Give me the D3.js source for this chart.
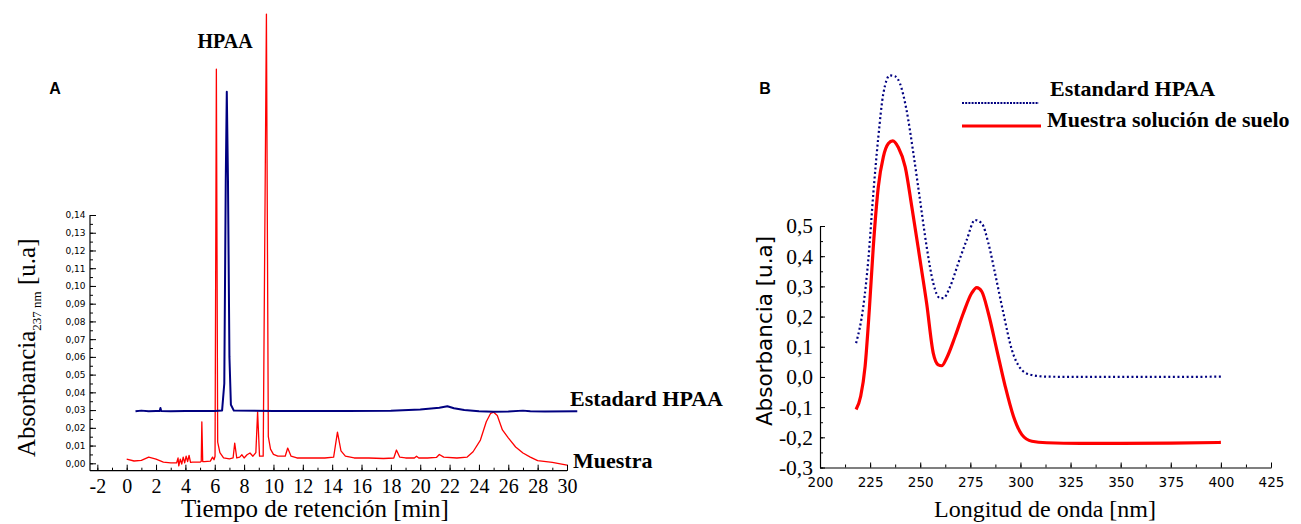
<!DOCTYPE html>
<html>
<head>
<meta charset="utf-8">
<script src="https://cdn.jsdelivr.net/npm/d3@7"></script>
<style>
  html, body { margin: 0; padding: 0; background: #fff; }
  svg { display: block; }
</style>
</head>
<body>
<svg id="chart" width="1301" height="524"></svg>
<script>
// ---------- Panel A: chromatogram ----------
const tA_std = [0.6, 1.0, 1.5, 2.0, 2.25, 2.3, 2.35, 3.0, 4.0, 5.0, 6.0, 6.5, 6.65, 6.75, 6.82, 6.9, 7.0, 7.1, 7.3, 10, 15, 18, 20, 21.3, 21.85, 22.3, 23.0, 24.0, 25.0, 26.0, 27.0, 27.5, 28.5, 30.7];
const absA_std = [0.0293, 0.0297, 0.0294, 0.0295, 0.0295, 0.0312, 0.0295, 0.0294, 0.0295, 0.0295, 0.0295, 0.0298, 0.045, 0.16, 0.2095, 0.16, 0.06, 0.033, 0.0297, 0.0295, 0.0295, 0.0296, 0.0303, 0.0313, 0.0322, 0.031, 0.0300, 0.0293, 0.0290, 0.0292, 0.0297, 0.0293, 0.0292, 0.0293];

const tA_mue = [0.0, 0.5, 1.0, 1.5, 2.0, 2.5, 3.0, 3.4, 3.5, 3.55, 3.65, 3.75, 3.85, 3.95, 4.05, 4.15, 4.25, 4.35, 4.5, 5.0, 5.08, 5.12, 5.18, 5.3, 5.7, 5.85, 5.95, 6.02, 6.11, 6.2, 6.35, 6.6, 7.0, 7.25, 7.36, 7.5, 7.7, 7.85, 8.0, 8.2, 8.4, 8.6, 8.8, 8.92, 9.05, 9.3, 9.52, 9.65, 9.8, 10.0, 10.3, 10.8, 10.97, 11.2, 11.6, 12.5, 13.5, 14.1, 14.36, 14.6, 14.9, 15.5, 16.5, 17.5, 18.2, 18.38, 18.6, 19.0, 19.6, 19.75, 19.9, 20.5, 21.1, 21.3, 21.6, 22.5, 23.2, 23.6, 24.1, 24.5, 24.8, 25.0, 25.25, 25.6, 26.0, 26.5, 27.0, 27.5, 28.0, 29.0, 30.0];
const absA_mue = [0.0023, 0.0013, 0.0016, 0.0035, 0.0024, 0.0007, 0.0002, 0.0002, 0.0030, -0.0015, 0.0024, -0.0004, 0.0035, 0.0002, 0.0040, 0.0010, 0.0044, 0.0005, 0.0007, 0.0007, 0.0010, 0.0234, 0.0010, 0.0009, 0.0012, 0.0035, 0.0020, 0.0040, 0.2223, 0.0120, 0.0060, 0.0030, 0.0025, 0.0030, 0.0114, 0.0030, 0.0035, 0.0048, 0.0030, 0.0048, 0.0058, 0.0040, 0.0060, 0.0290, 0.0040, 0.0040, 0.2533, 0.0150, 0.0080, 0.0050, 0.0040, 0.0040, 0.0086, 0.0040, 0.0030, 0.0030, 0.0030, 0.0035, 0.0176, 0.0070, 0.0040, 0.0030, 0.0030, 0.0027, 0.0030, 0.0075, 0.0035, 0.0030, 0.0030, 0.0040, 0.0030, 0.0030, 0.0033, 0.0050, 0.0035, 0.0030, 0.0035, 0.0065, 0.0131, 0.0234, 0.0282, 0.0288, 0.0270, 0.0188, 0.0143, 0.0092, 0.0058, 0.0035, 0.0015, 0.0005, -0.0010];

const xTicksA = d3.range(-2, 31, 2);
const xMinorA = d3.range(-2, 31, 1);
const yTicksA = d3.range(0, 0.1401, 0.01);
const yMinorA = d3.range(0, 0.1401, 0.005);

// ---------- Panel B: UV spectra ----------
const nmB_std = [218, 221.6, 224.1, 226.6, 229.1, 231.6, 234.9, 237.4, 239.9, 243.2, 246.6, 249.9, 253.2, 256.5, 259.9, 261.5, 264.9, 269.0, 273.2, 277.3, 280.7, 284.0, 287.3, 291.5, 295.7, 299.8, 304.8, 313.1, 330, 350, 375, 400];
const absB_std = [0.112, 0.233, 0.388, 0.608, 0.795, 0.939, 0.999, 0.996, 0.972, 0.883, 0.740, 0.586, 0.432, 0.311, 0.261, 0.261, 0.299, 0.377, 0.454, 0.520, 0.509, 0.443, 0.344, 0.211, 0.090, 0.030, 0.0075, 0.001, 0.0, 0.0, 0.0, 0.001];

const nmB_mue = [218, 220.3, 222.5, 224.6, 226.6, 229.1, 231.6, 234.1, 236.3, 239.1, 242.5, 245.8, 249.9, 253.2, 256.5, 259.0, 260.7, 263.2, 267.4, 271.5, 275.7, 278.2, 280.7, 284.0, 288.2, 292.4, 296.5, 300.7, 305.7, 313.1, 330, 350, 375, 400];
const absB_mue = [-0.108, -0.064, 0.035, 0.222, 0.432, 0.630, 0.729, 0.773, 0.782, 0.760, 0.696, 0.564, 0.388, 0.244, 0.079, 0.040, 0.037, 0.063, 0.134, 0.211, 0.278, 0.296, 0.283, 0.211, 0.090, -0.031, -0.130, -0.191, -0.213, -0.218, -0.220, -0.220, -0.219, -0.217];

const xTicksB = d3.range(200, 426, 25);
const xMinorB = d3.range(200, 426, 12.5);
const yTicksB = d3.range(-0.3, 0.501, 0.1).map(v => Math.round(v * 10) / 10);
const yMinorB = d3.range(-0.3, 0.501, 0.05).map(v => Math.round(v * 100) / 100);

const legendLabels = ["Estandard HPAA", "Muestra solución de suelo"];

// ---------- drawing ----------
const svg = d3.select("#chart");
const SERIF = "'Liberation Serif', 'Times New Roman', serif";
const SANS = "'DejaVu Sans', Verdana, sans-serif";
const fmtComma = (d, p) => d.toFixed(p).replace(".", ",");

// Panel A scales
const xA = d3.scaleLinear().domain([-2.5, 30]).range([90, 567]);
const yA = d3.scaleLinear().domain([0, 0.14]).range([463.3, 215]);
const axisYA = 470.7;

const gA = svg.append("g");
gA.append("g").attr("transform", `translate(0,${axisYA})`)
  .call(d3.axisBottom(xA).tickValues(xMinorA).tickSize(-3).tickFormat(""))
  .call(g => g.select(".domain").remove());
gA.append("g").attr("transform", `translate(0,${axisYA})`)
  .call(d3.axisBottom(xA).tickValues(xTicksA).tickSizeInner(-6).tickSizeOuter(0).tickPadding(8).tickFormat(d => d))
  .call(g => g.select(".domain").attr("d", `M90,0H567`))
  .call(g => g.selectAll("text").attr("font-family", SERIF).attr("font-size", 20).attr("fill", "#000"));
gA.append("g").attr("transform", `translate(90,0)`)
  .call(d3.axisLeft(yA).tickValues(yMinorA).tickSize(-3).tickFormat(""))
  .call(g => g.select(".domain").remove());
gA.append("g").attr("transform", `translate(90,0)`)
  .call(d3.axisLeft(yA).tickValues(yTicksA).tickSizeInner(-6).tickSizeOuter(0).tickPadding(4.5).tickFormat(d => fmtComma(d, 2)))
  .call(g => g.select(".domain").attr("d", `M0,${yA(0.14)}V${axisYA}`))
  .call(g => g.selectAll("text").attr("font-family", SANS).attr("font-size", 9).attr("fill", "#000"));
gA.selectAll(".tick line").attr("stroke", "#000");
gA.selectAll(".domain").attr("stroke", "#000").attr("stroke-width", 1.2);

const lineA = d3.line().x(d => xA(d[0])).y(d => yA(d[1]));
gA.append("path")
  .datum(d3.zip(tA_mue, absA_mue))
  .attr("fill", "none").attr("stroke", "#ff0000").attr("stroke-width", 1.3)
  .attr("stroke-linejoin", "round")
  .attr("d", lineA);
gA.append("path")
  .datum(d3.zip(tA_std, absA_std))
  .attr("fill", "none").attr("stroke", "#000080").attr("stroke-width", 2)
  .attr("stroke-linejoin", "round")
  .attr("d", lineA);

// Panel A texts
svg.append("text").attr("x", 225).attr("y", 48).attr("text-anchor", "middle")
  .attr("font-family", SERIF).attr("font-weight", "bold").attr("font-size", 20).text("HPAA");
svg.append("text").attr("x", 570).attr("y", 406)
  .attr("font-family", SERIF).attr("font-weight", "bold").attr("font-size", 22).text("Estadard HPAA");
svg.append("text").attr("x", 573).attr("y", 468)
  .attr("font-family", SERIF).attr("font-weight", "bold").attr("font-size", 22).text("Muestra");
svg.append("text").attr("x", 55).attr("y", 94).attr("text-anchor", "middle")
  .attr("font-family", "'Liberation Sans', Arial, sans-serif").attr("font-weight", "bold").attr("font-size", 16).text("A");
svg.append("text").attr("x", 315).attr("y", 516.5).attr("text-anchor", "middle")
  .attr("font-family", SERIF).attr("font-size", 25).text("Tiempo de retención [min]");
const yLabA = svg.append("text").attr("transform", "translate(35,457) rotate(-90)")
  .attr("font-family", SERIF).attr("font-size", 25);
yLabA.append("tspan").text("Absorbancia");
yLabA.append("tspan").attr("font-size", 13).attr("dy", 6).text("237 nm");
yLabA.append("tspan").attr("dy", -6).text(" [u.a]");

// Panel B scales
const xB = d3.scaleLinear().domain([200, 425]).range([820, 1271]);
const yB = d3.scaleLinear().domain([-0.3, 0.5]).range([467.5, 226]);
const gB = svg.append("g");
gB.append("g").attr("transform", `translate(0,${yB(-0.3)})`)
  .call(d3.axisBottom(xB).tickValues(xMinorB).tickSize(-3).tickFormat(""))
  .call(g => g.select(".domain").remove());
gB.append("g").attr("transform", `translate(0,${yB(-0.3)})`)
  .call(d3.axisBottom(xB).tickValues(xTicksB).tickSizeInner(-5).tickSizeOuter(0).tickPadding(10).tickFormat(d => d))
  .call(g => g.selectAll("text").attr("font-family", SANS).attr("font-size", 13.5).attr("fill", "#000"));
gB.append("g").attr("transform", `translate(820,0)`)
  .call(d3.axisLeft(yB).tickValues(yMinorB).tickSize(-3).tickFormat(""))
  .call(g => g.select(".domain").remove());
gB.append("g").attr("transform", `translate(820,0)`)
  .call(d3.axisLeft(yB).tickValues(yTicksB).tickSizeInner(-5).tickSizeOuter(0).tickPadding(7).tickFormat(d => fmtComma(d, 1)))
  .call(g => g.selectAll("text").attr("font-family", SERIF).attr("font-size", 21.5).attr("fill", "#000"));
gB.selectAll(".tick line").attr("stroke", "#000");
gB.selectAll(".domain").attr("stroke", "#000").attr("stroke-width", 1.2);

const lineB = d3.line().x(d => xB(d[0])).y(d => yB(d[1])).curve(d3.curveMonotoneX);
gB.append("path")
  .datum(d3.zip(nmB_std, absB_std))
  .attr("fill", "none").attr("stroke", "#000080").attr("stroke-width", 2.2)
  .attr("stroke-dasharray", "2,2.6")
  .attr("d", lineB);
gB.append("path")
  .datum(d3.zip(nmB_mue, absB_mue))
  .attr("fill", "none").attr("stroke", "#ff0000").attr("stroke-width", 3.2)
  .attr("d", lineB);

// legend
const lg = svg.append("g");
lg.append("line").attr("x1", 962).attr("x2", 1039).attr("y1", 103).attr("y2", 103)
  .attr("stroke", "#000080").attr("stroke-width", 2.2).attr("stroke-dasharray", "2,1.2");
lg.append("line").attr("x1", 962).attr("x2", 1041).attr("y1", 126).attr("y2", 126)
  .attr("stroke", "#ff0000").attr("stroke-width", 3.2);
lg.append("text").attr("x", 1050).attr("y", 96)
  .attr("font-family", SERIF).attr("font-weight", "bold").attr("font-size", 22).text(legendLabels[0]);
lg.append("text").attr("x", 1047).attr("y", 127)
  .attr("font-family", SERIF).attr("font-weight", "bold").attr("font-size", 22).text(legendLabels[1]);

svg.append("text").attr("x", 765).attr("y", 94).attr("text-anchor", "middle")
  .attr("font-family", "'Liberation Sans', Arial, sans-serif").attr("font-weight", "bold").attr("font-size", 16).text("B");
svg.append("text").attr("x", 1045).attr("y", 517).attr("text-anchor", "middle")
  .attr("font-family", SERIF).attr("font-size", 24).text("Longitud de onda [nm]");
svg.append("text").attr("transform", "translate(772,331) rotate(-90)").attr("text-anchor", "middle")
  .attr("font-family", SANS).attr("font-size", 21.5).text("Absorbancia [u.a]");
</script>
</body>
</html>
